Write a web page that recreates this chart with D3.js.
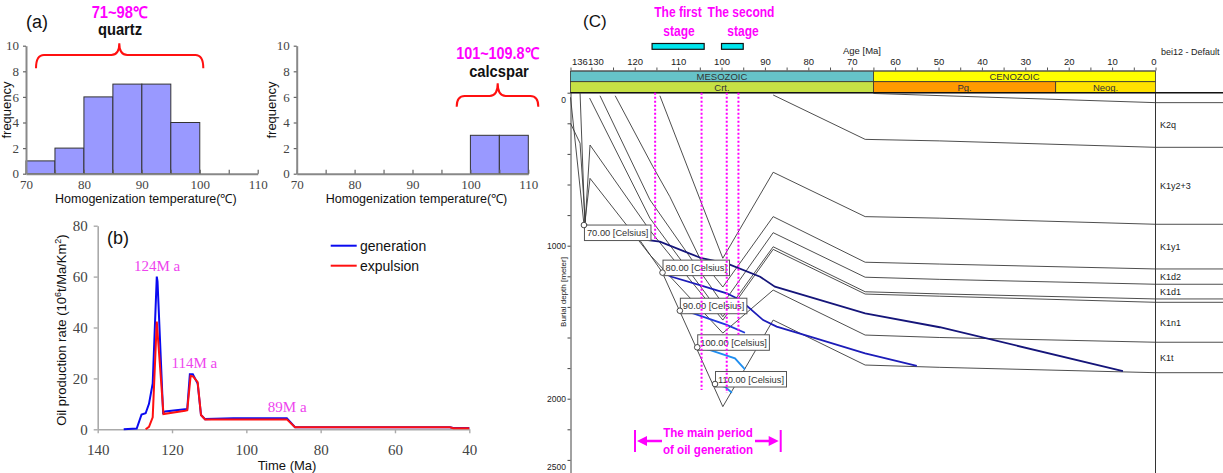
<!DOCTYPE html>
<html>
<head>
<meta charset="utf-8">
<script src="https://cdn.jsdelivr.net/npm/d3@7/dist/d3.min.js"></script>
<style>
  body { margin: 0; background: #fff; }
  svg { display: block; font-family: "Liberation Sans", Arial, sans-serif; }
</style>
</head>
<body>
<div id="chart"></div>
<script>
// ---------------- data: (a) homogenization temperature histograms ----------------
var binStarts = [70, 75, 80, 85, 90, 95, 100, 105];
var quartzFreq = [1, 2, 6, 7, 7, 4, 0, 0];
var calcsparFreq = [0, 0, 0, 0, 0, 0, 3, 3];
var tempTicks = [70, 75, 80, 85, 90, 95, 100, 105, 110];
var freqTicks = [0, 2, 4, 6, 8, 10];

// ---------------- data: (b) oil production rate ----------------
var genTime = [133, 129.5, 128.2, 127.1, 126.2, 125.2, 124.1, 123.9, 122.4, 121.9, 116.5, 115.9, 115.2, 114.4, 113.1, 112.2, 111.1, 103.5, 89.1, 86.9, 45.2, 44.3, 40];
var genRate = [0, 0.3, 5.8, 6.3, 10, 18, 60, 58, 6.5, 7, 7.9, 8, 21.6, 21.6, 18, 5.6, 4, 4.3, 4.3, 0.8, 0.8, 0.5, 0.5];
var expTime = [127.1, 126.2, 125.2, 124.1, 122.3, 116.5, 115.9, 115, 114.3, 113.1, 112.2, 111.1, 89.1, 86.9, 45.2, 44.3, 40];
var expRate = [0, 1, 4.7, 42.3, 6, 7.3, 7.5, 21, 20.7, 18.5, 5.6, 3.9, 3.9, 0.8, 0.8, 0.4, 0.4];
var timeTicks = [140, 120, 100, 80, 60, 40];
var rateTicks = [0, 20, 40, 60, 80];
var peakTimes = [124, 114, 89];
var peakNames = ["124M a", "114M a", "89M a"];

// ---------------- data: (C) burial history ----------------
var ageTicks = [136, 130, 125, 120, 115, 110, 105, 100, 95, 90, 85, 80, 75, 70, 65, 60, 55, 50, 45, 40, 35, 30, 25, 20, 15, 10, 5, 0];
var eraNames = ["MESOZOIC", "CENOZOIC"];
var eraFrom = [134.8, 65];
var eraTo = [65, 0];
var periodNames = ["Crt.", "Pg.", "Neog."];
var periodFrom = [134.8, 65, 23];
var periodTo = [65, 23, 0];
var depthTicks = [0, 200, 400, 600, 800, 1000, 1200, 1400, 1600, 1800, 2000, 2200, 2400];
var depthLabels = [0, 1000, 2000, 2500];
var formations = ["K2q", "K1y2+3", "K1y1", "K1d2", "K1d1", "K1n1", "K1t"];
var formationTop = [65, 357, 860, 1152, 1252, 1370, 1631];
var formationBase = [357, 860, 1152, 1252, 1348, 1631, 1830];

// horizons: ages [Ma] and depths [m]
var horizonAges = [
  [65, 0],
  [88.1, 66.9, 49.7, 0],
  [114.2, 99.7, 88.1, 66.9, 49.7, 0],
  [124.5, 115.8, 111.9, 105, 99.7, 88.1, 66.9, 49.7, 0],
  [128.0, 116.5, 99.7, 88.1, 66.9, 49.7, 0],
  [130.4, 116.5, 99.7, 88.1, 66.9, 49.7, 0],
  [134.9, 132.6, 131.4, 130.3, 116.5, 99.7, 88.1, 66.9, 49.7, 0],
  [132.6, 131.5, 130.3, 116.5, 99.7, 88.1, 66.9, 49.7, 0],
  [134.9, 131.7, 118.8, 113.7, 99.7, 88.1, 66.9, 49.7, 0]
];
var horizonDepths = [
  [5, 65],
  [15, 305, 315, 357],
  [20, 1082, 520, 810, 820, 860],
  [20, 484, 680, 1082, 1270, 810, 1108, 1120, 1152],
  [20, 700, 1380, 915, 1206, 1220, 1252],
  [35, 820, 1464, 1007, 1301, 1315, 1348],
  [200, 330, 845, 342, 900, 1486, 1024, 1316, 1330, 1370],
  [0, 850, 560, 1060, 1571, 1290, 1584, 1600, 1631],
  [30, 860, 965, 1172, 2052, 1486, 1780, 1795, 1830]
];

// isotherms
var isoNames = ["70.00 [Celsius]", "80.00 [Celsius]", "90.00 [Celsius]", "100.00 [Celsius]", "110.00 [Celsius]"];
var isoColors = ["#15157a", "#1c1cb8", "#2238dc", "#1f8ef0", "#1f8ef0"];
var isoAges = [
  [131.7, 116.9, 114.2, 104.6, 98.8, 91.1, 87.7, 66.9, 49.7, 7.5],
  [113.6, 111.5, 105, 98.8, 95.7, 90.4, 87.3, 79.6, 66.9, 55],
  [109.6, 106.5, 98.8, 94.6],
  [105.6, 102.6, 96.9, 94.6],
  [101.5, 99.2, 97.6]
];
var isoDepths = [
  [865, 963, 974, 1082, 1115, 1203, 1268, 1442, 1533, 1819],
  [1176, 1203, 1257, 1311, 1355, 1486, 1529, 1595, 1703, 1786],
  [1425, 1442, 1518, 1569],
  [1664, 1682, 1736, 1808],
  [1904, 1922, 1961]
];

// generation stages and guide lines
var stageNames = [["The first", "stage"], ["The second", "stage"]];
var stageFrom = [116, 100];
var stageTo = [104, 95];
var guideAges = [115.3, 104.6, 98.8, 96.1];
var guideDepths = [963, 1943, 1963, 1584];

// ---------------- drawing ----------------
var W = 1223, H = 473;
var svg = d3.select("#chart").append("svg").attr("width", W).attr("height", H);

var magenta = "#ff00ff";

function narrowText(g, x, y, txt, size, sx, color, weight) {
  // condensed bold look via horizontal scaling
  return g.append("text")
    .attr("transform", "translate(" + x + "," + y + ") scale(" + sx + ",1)")
    .attr("text-anchor", "middle")
    .style("font-size", size + "px")
    .style("font-weight", weight || "bold")
    .attr("fill", color)
    .text(txt);
}

function brace(g, x0, x1, tip, yEnd, yBar, yTip) {
  var r = 8;
  var p = "M" + x0 + "," + yEnd +
    " Q" + x0 + "," + yBar + " " + (x0 + r) + "," + yBar +
    " L" + (tip - r) + "," + yBar +
    " Q" + tip + "," + yBar + " " + tip + "," + yTip +
    " Q" + tip + "," + yBar + " " + (tip + r) + "," + yBar +
    " L" + (x1 - r) + "," + yBar +
    " Q" + x1 + "," + yBar + " " + x1 + "," + yEnd;
  g.append("path").attr("d", p).attr("fill", "none").attr("stroke", "#ff1010").attr("stroke-width", 2);
}

// ---- (a) histogram panels ----
function histPanel(left, right, freqs, labelX) {
  var g = svg.append("g");
  var x = d3.scaleLinear().domain([70, 110]).range([left, right]);
  var y = d3.scaleLinear().domain([0, 10]).range([173.7, 45.7]);

  g.selectAll("rect")
    .data(binStarts.map(function (b, i) { return { b: b, f: freqs[i] }; }).filter(function (d) { return d.f > 0; }))
    .join("rect")
    .attr("x", function (d) { return x(d.b); })
    .attr("width", function (d) { return x(d.b + 5) - x(d.b); })
    .attr("y", function (d) { return y(d.f); })
    .attr("height", function (d) { return y(0) - y(d.f); })
    .attr("fill", "#9999ff")
    .attr("stroke", "#333")
    .attr("stroke-width", 1);

  var xAxis = d3.axisBottom(x).tickValues(tempTicks).tickSizeInner(-4).tickSizeOuter(0).tickPadding(6)
    .tickFormat(function (d) { return d % 10 === 0 ? d : ""; });
  var yAxis = d3.axisLeft(y).tickValues(freqTicks).tickSizeInner(3).tickSizeOuter(0).tickPadding(4);

  var gx = g.append("g").attr("transform", "translate(0," + y(0) + ")").call(xAxis);
  var gy = g.append("g").attr("transform", "translate(" + left + ",0)").call(yAxis);
  [gx, gy].forEach(function (a) {
    a.select(".domain").attr("stroke", "#888").attr("stroke-width", 2);
    a.selectAll(".tick line").attr("stroke", "#666").attr("stroke-width", 1.2);
    a.selectAll(".tick text").attr("fill", "#444")
      .style("font-family", "'Liberation Serif', 'DejaVu Serif', serif").style("font-size", "13px");
  });

  g.append("text")
    .attr("x", (left + right) / 2 + 4).attr("y", 203)
    .attr("text-anchor", "middle").style("font-size", "12.5px").attr("fill", "#111")
    .text("Homogenization temperature(\u2103)");
  g.append("text")
    .attr("transform", "translate(" + labelX + ",110) rotate(-90)")
    .attr("text-anchor", "middle").style("font-size", "13px").attr("fill", "#111")
    .text("frequency");
  return g;
}

var gA1 = histPanel(26, 257.7, quartzFreq, 11);
var gA2 = histPanel(296.7, 528.3, calcsparFreq, 276);

svg.append("text").attr("x", 26).attr("y", 28).style("font-size", "18px").attr("fill", "#111").text("(a)");
brace(gA1, 36, 203.3, 119.3, 68.3, 55, 43.3);
narrowText(gA1, 119.5, 18, "71~98\u2103", 16, 0.92, magenta);
narrowText(gA1, 120, 35, "quartz", 16, 0.92, "#111");
brace(gA2, 456.7, 538.3, 497.7, 106.7, 96, 83.3);
narrowText(gA2, 497.5, 59, "101~109.8\u2103", 16, 0.9, magenta);
narrowText(gA2, 499, 77, "calcspar", 16, 0.92, "#111");

// ---- (b) oil generation / expulsion rate ----
var gB = svg.append("g");
var xB = d3.scaleLinear().domain([140, 40]).range([97.7, 469.3]);
var yB = d3.scaleLinear().domain([0, 80]).range([429.3, 225.7]);

var gbx = gB.append("g").attr("transform", "translate(0," + yB(0) + ")")
  .call(d3.axisBottom(xB).tickValues(timeTicks).tickSizeInner(4).tickSizeOuter(0).tickPadding(11));
var gby = gB.append("g").attr("transform", "translate(" + xB(140) + ",0)")
  .call(d3.axisLeft(yB).tickValues(rateTicks).tickSizeInner(4).tickSizeOuter(0).tickPadding(6));
[gbx, gby].forEach(function (a) {
  a.select(".domain").attr("stroke", "#aaa").attr("stroke-width", 1.6);
  a.selectAll(".tick line").attr("stroke", "#aaa").attr("stroke-width", 1.4);
  a.selectAll(".tick text").attr("fill", "#444")
    .style("font-family", "'Liberation Serif', 'DejaVu Serif', serif").style("font-size", "15px");
});

var lineB = d3.line().x(function (d) { return xB(d[0]); }).y(function (d) { return yB(d[1]); });
var genPts = genTime.map(function (t, i) { return [t, genRate[i]]; });
var expPts = expTime.map(function (t, i) { return [t, expRate[i]]; });
gB.append("path").datum(genPts).attr("d", lineB).attr("fill", "none").attr("stroke", "#0a0af0").attr("stroke-width", 2);
gB.append("path").datum(expPts).attr("d", lineB).attr("fill", "none").attr("stroke", "#ff1010").attr("stroke-width", 2);

// peak annotations sit just above the local maximum of the generation curve
peakTimes.forEach(function (t, i) {
  var v = d3.max(genRate.filter(function (r, k) { return Math.abs(genTime[k] - t) < 1.2; }));
  gB.append("text")
    .attr("x", xB(t)).attr("y", yB(v) - 6)
    .attr("text-anchor", "middle")
    .style("font-family", "'Liberation Serif', 'DejaVu Serif', serif").style("font-size", "15px")
    .attr("fill", "#ee44ee").text(peakNames[i]);
});

// legend
[["generation", "#0a0af0"], ["expulsion", "#ff1010"]].forEach(function (s, i) {
  var ly = 245.7 + i * 20;
  gB.append("line").attr("x1", 330.7).attr("x2", 356.7).attr("y1", ly).attr("y2", ly)
    .attr("stroke", s[1]).attr("stroke-width", 2);
  gB.append("text").attr("x", 360).attr("y", ly + 5).style("font-size", "14px").attr("fill", "#111").text(s[0]);
});

gB.append("text").attr("x", 107).attr("y", 244).style("font-size", "18px").attr("fill", "#111").text("(b)");
gB.append("text").attr("x", 287).attr("y", 470).attr("text-anchor", "middle").style("font-size", "13px").attr("fill", "#111").text("Time (Ma)");
var yl = gB.append("text")
  .attr("transform", "translate(66,330) rotate(-90)")
  .attr("text-anchor", "middle").style("font-size", "13px").attr("fill", "#111");
yl.append("tspan").text("Oil production rate (10");
yl.append("tspan").attr("baseline-shift", "super").style("font-size", "9px").text("6");
yl.append("tspan").text("t/Ma/Km");
yl.append("tspan").attr("baseline-shift", "super").style("font-size", "9px").text("2");
yl.append("tspan").text(")");

// ---- (C) burial history ----
var gC = svg.append("g");
var xC = d3.scaleLinear().domain([134.8, 0]).range([570.5, 1155.5]).clamp(true);
var yC = d3.scaleLinear().domain([0, 2500]).range([92.7, 475.2]);

// stratigraphic bars
eraNames.forEach(function (n, i) {
  gC.append("rect").attr("x", xC(eraFrom[i])).attr("y", 71).attr("width", xC(eraTo[i]) - xC(eraFrom[i])).attr("height", 10.7)
    .attr("fill", i === 0 ? "#66c3c8" : "#ffff00").attr("stroke", "#333").attr("stroke-width", 0.8);
  gC.append("text").attr("x", (xC(eraFrom[i]) + xC(eraTo[i])) / 2).attr("y", 79.5).attr("text-anchor", "middle")
    .style("font-size", "9.5px").attr("fill", "#333").text(n);
});
var periodColors = ["#c6e145", "#ff9a00", "#ffe100"];
periodNames.forEach(function (n, i) {
  gC.append("rect").attr("x", xC(periodFrom[i])).attr("y", 81.7).attr("width", xC(periodTo[i]) - xC(periodFrom[i])).attr("height", 11)
    .attr("fill", periodColors[i]).attr("stroke", "#333").attr("stroke-width", 0.8);
  gC.append("text").attr("x", (xC(periodFrom[i]) + xC(periodTo[i])) / 2).attr("y", 90.5).attr("text-anchor", "middle")
    .style("font-size", "9.5px").attr("fill", "#333").text(n);
});

// age axis
var gAge = gC.append("g").attr("transform", "translate(0,70.5)")
  .call(d3.axisTop(xC).tickValues(ageTicks).tickSizeInner(3).tickSizeOuter(0).tickPadding(3)
    .tickFormat(function (d) { return d % 10 === 0 || d === 136 ? d : ""; }));
gAge.select(".domain").attr("stroke", "#555");
gAge.selectAll(".tick line").attr("stroke", "#555");
gAge.selectAll(".tick text").attr("fill", "#222").style("font-size", "9.5px");
gAge.selectAll(".tick text").filter(function (d) { return d === 136; }).attr("text-anchor", "start").attr("dx", "1");
gAge.selectAll(".tick text").filter(function (d) { return d === 130; }).attr("dx", "4");
gAge.selectAll(".tick text").filter(function (d) { return d === 0; }).attr("dx", "-2");
gC.append("text").attr("x", 862).attr("y", 54).attr("text-anchor", "middle").style("font-size", "9.5px").attr("fill", "#222").text("Age [Ma]");
gC.append("text").attr("x", 1161).attr("y", 55).style("font-size", "9px").attr("fill", "#222").text("bei12 - Default");

// depth axis
var gDep = gC.append("g").attr("transform", "translate(" + xC(134.8) + ",0)")
  .call(d3.axisLeft(yC).tickValues(depthTicks).tickSizeInner(3).tickSizeOuter(0).tickFormat(""));
gDep.select(".domain").attr("stroke", "#444");
gDep.selectAll(".tick line").attr("stroke", "#444");
depthLabels.forEach(function (v) {
  gC.append("text").attr("x", 566).attr("y", Math.max(103, Math.min(470, yC(v) + 3)))
    .attr("text-anchor", "end").style("font-size", "8.5px").attr("fill", "#222").text(v);
});
gC.append("text").attr("transform", "translate(566,292) rotate(-90)").attr("text-anchor", "middle")
  .style("font-size", "8px").attr("fill", "#222").text("Burial depth [meter]");

// right boundary & surface
gC.append("line").attr("x1", xC(0)).attr("x2", xC(0)).attr("y1", yC(0)).attr("y2", H).attr("stroke", "#333").attr("stroke-width", 1);
gC.append("line").attr("x1", xC(134.8)).attr("x2", W).attr("y1", yC(0)).attr("y2", yC(0)).attr("stroke", "#111").attr("stroke-width", 1.5);

// horizons
var lineC = d3.line().x(function (d) { return xC(d[0]); }).y(function (d) { return yC(d[1]); });
horizonAges.forEach(function (ages, i) {
  var pts = ages.map(function (a, k) { return [a, horizonDepths[i][k]]; });
  gC.append("path").datum(pts).attr("d", lineC).attr("fill", "none").attr("stroke", "#3a3a3a").attr("stroke-width", 0.9);
  var last = horizonDepths[i][horizonDepths[i].length - 1];
  gC.append("line").attr("x1", xC(0)).attr("x2", W).attr("y1", yC(last)).attr("y2", yC(last))
    .attr("stroke", "#3a3a3a").attr("stroke-width", 0.9);
});

// formation names
formations.forEach(function (f, i) {
  gC.append("text").attr("x", 1160).attr("y", yC((formationTop[i] + formationBase[i]) / 2) + 3.5)
    .style("font-size", "9px").attr("fill", "#222").text(f);
});

// isotherms
isoAges.forEach(function (ages, i) {
  var pts = ages.map(function (a, k) { return [a, isoDepths[i][k]]; });
  gC.append("path").datum(pts).attr("d", lineC).attr("fill", "none").attr("stroke", isoColors[i]).attr("stroke-width", 1.8);
});
isoAges.forEach(function (ages, i) {
  var cx = xC(ages[0]), cy = yC(isoDepths[i][0]);
  var by = i === 0 ? cy : cy - 12.5;
  var t = gC.append("text").attr("x", cx + 3).attr("y", by + 11).style("font-size", "9.3px").attr("fill", "#333").text(isoNames[i]);
  var bw = t.node().getComputedTextLength() + 5;
  gC.insert("rect", function () { return t.node(); })
    .attr("x", cx + 0.5).attr("y", by).attr("width", bw).attr("height", 15.5)
    .attr("fill", "#fff").attr("stroke", "#555").attr("stroke-width", 1);
  gC.append("circle").attr("cx", cx).attr("cy", cy).attr("r", 2.8).attr("fill", "#fff").attr("stroke", "#333").attr("stroke-width", 0.9);
});

// guide lines (dotted magenta)
guideAges.forEach(function (a, i) {
  gC.append("line").attr("x1", xC(a)).attr("x2", xC(a)).attr("y1", yC(0)).attr("y2", yC(guideDepths[i]))
    .attr("stroke", magenta).attr("stroke-width", 2).attr("stroke-dasharray", "2,2");
});

// generation stages
stageNames.forEach(function (s, i) {
  gC.append("rect").attr("x", xC(stageFrom[i])).attr("y", 43.5).attr("width", xC(stageTo[i]) - xC(stageFrom[i])).attr("height", 5.8)
    .attr("fill", "#00e6ee").attr("stroke", "#111").attr("stroke-width", 1.2);
});
narrowText(gC, 678, 17, "The first", 14, 0.86, magenta);
narrowText(gC, 679, 36, "stage", 14, 0.86, magenta);
narrowText(gC, 741, 17, "The second", 14, 0.86, magenta);
narrowText(gC, 743, 36, "stage", 14, 0.86, magenta);
gC.append("text").attr("x", 583).attr("y", 27).style("font-size", "17px").attr("fill", "#111").text("(C)");

// main period of oil generation
var mpL = 635, mpR = 780.7, mpY = 441;
gC.append("line").attr("x1", mpL).attr("x2", mpL).attr("y1", 430).attr("y2", 452).attr("stroke", magenta).attr("stroke-width", 2);
gC.append("line").attr("x1", mpR).attr("x2", mpR).attr("y1", 430).attr("y2", 452).attr("stroke", magenta).attr("stroke-width", 2);
gC.append("line").attr("x1", mpL + 10).attr("x2", 662).attr("y1", mpY).attr("y2", mpY).attr("stroke", magenta).attr("stroke-width", 2.5);
gC.append("line").attr("x1", 755).attr("x2", mpR - 10).attr("y1", mpY).attr("y2", mpY).attr("stroke", magenta).attr("stroke-width", 2.5);
gC.append("path").attr("d", "M" + (mpL + 2) + "," + mpY + " l10,-5 l0,10 z").attr("fill", magenta);
gC.append("path").attr("d", "M" + (mpR - 2) + "," + mpY + " l-10,-5 l0,10 z").attr("fill", magenta);
narrowText(gC, 708, 436.5, "The main period", 13.5, 0.86, magenta);
narrowText(gC, 708, 454, "of oil generation", 13.5, 0.86, magenta);
</script>
</body>
</html>
